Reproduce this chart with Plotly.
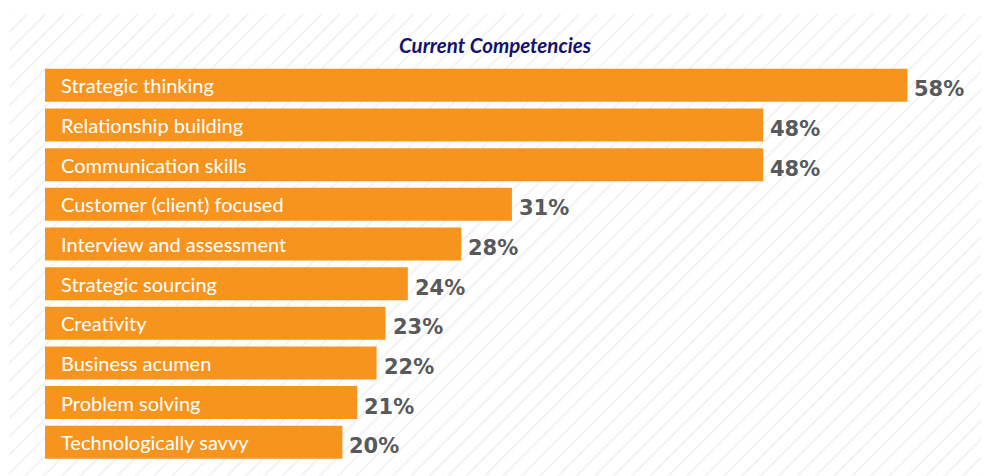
import plotly.graph_objects as go

# ---- data ----
categories = [
    "Strategic thinking",
    "Relationship building",
    "Communication skills",
    "Customer (client) focused",
    "Interview and assessment",
    "Strategic sourcing",
    "Creativity",
    "Business acumen",
    "Problem solving",
    "Technologically savvy",
]
values = [58.0, 48.3, 48.3, 31.4, 28.0, 24.4, 22.9, 22.3, 21.0, 20.0]
value_labels = ["58%", "48%", "48%", "31%", "28%", "24%", "23%", "22%", "21%", "20%"]
title_text = "Current Competencies"

# ---- style ----
BAR = "#F7941D"
VAL = "#58595B"
NAVY = "#14136B"
W, H = 987, 476
ML, MR, MT, MB = 9, 6, 14, 0
plot_w = W - ML - MR
plot_h = H - MT - MB

idx = list(range(len(categories)))

fig = go.Figure()

# striped background on the full plot area (xy subplot, drawn first)
fig.add_trace(go.Scatter(
    x=[0, 1, 1, 0, 0], y=[0, 0, 1, 1, 0],
    mode="lines", line=dict(width=0), fill="toself",
    fillcolor="white",
    fillpattern=dict(shape="/", fgcolor="#E2E2E2", bgcolor="white",
                     size=13, solidity=0.13),
    hoverinfo="skip", showlegend=False,
    xaxis="x", yaxis="y",
))

# bars on x2/y2
fig.add_trace(go.Bar(
    x=values, y=idx, orientation="h",
    marker=dict(color=BAR, line=dict(width=0)),
    hoverinfo="skip", showlegend=False,
    xaxis="x2", yaxis="y2",
))

annotations = []
for i, (c, v, lab) in enumerate(zip(categories, values, value_labels)):
    annotations.append(dict(
        x=0, y=i, xref="x2", yref="y2", text=c, showarrow=False,
        xanchor="left", yanchor="middle", xshift=14,
        font=dict(family="Lato", size=20, color="white"),
    ))
    annotations.append(dict(
        x=v, y=i, xref="x2", yref="y2", text=lab, showarrow=False,
        xanchor="left", yanchor="middle", xshift=5, yshift=-4,
        font=dict(family="DejaVu Sans", size=21, color=VAL, weight="bold"),
    ))

annotations.append(dict(
    x=(495 - ML) / plot_w, y=(H - MB - 45) / plot_h, xref="paper", yref="paper",
    text="<b><i>" + title_text + "</i></b>", showarrow=False,
    xanchor="center", yanchor="middle",
    font=dict(family="Lato", size=20.5, color=NAVY),
))

px_per = 14.87
x_left, x_right = 45, 981
y_top, y_bot = 65.5, 462.1

fig.update_layout(
    width=W, height=H,
    margin=dict(l=ML, r=MR, t=MT, b=MB, pad=0),
    paper_bgcolor="white", plot_bgcolor="rgba(0,0,0,0)",
    bargap=0.168,
    showlegend=False,
    annotations=annotations,
    xaxis=dict(domain=[0, 1], range=[0, 1], visible=False, fixedrange=True),
    yaxis=dict(domain=[0, 1], range=[0, 1], visible=False, fixedrange=True),
    xaxis2=dict(domain=[(x_left - ML) / plot_w, 1], anchor="y2",
                range=[0, (x_right - x_left) / px_per], visible=False),
    yaxis2=dict(domain=[(H - MB - y_bot) / plot_h, (H - MB - y_top) / plot_h],
                anchor="x2", range=[len(categories) - 0.5, -0.5], visible=False),
)

fig.write_html("out.html")
